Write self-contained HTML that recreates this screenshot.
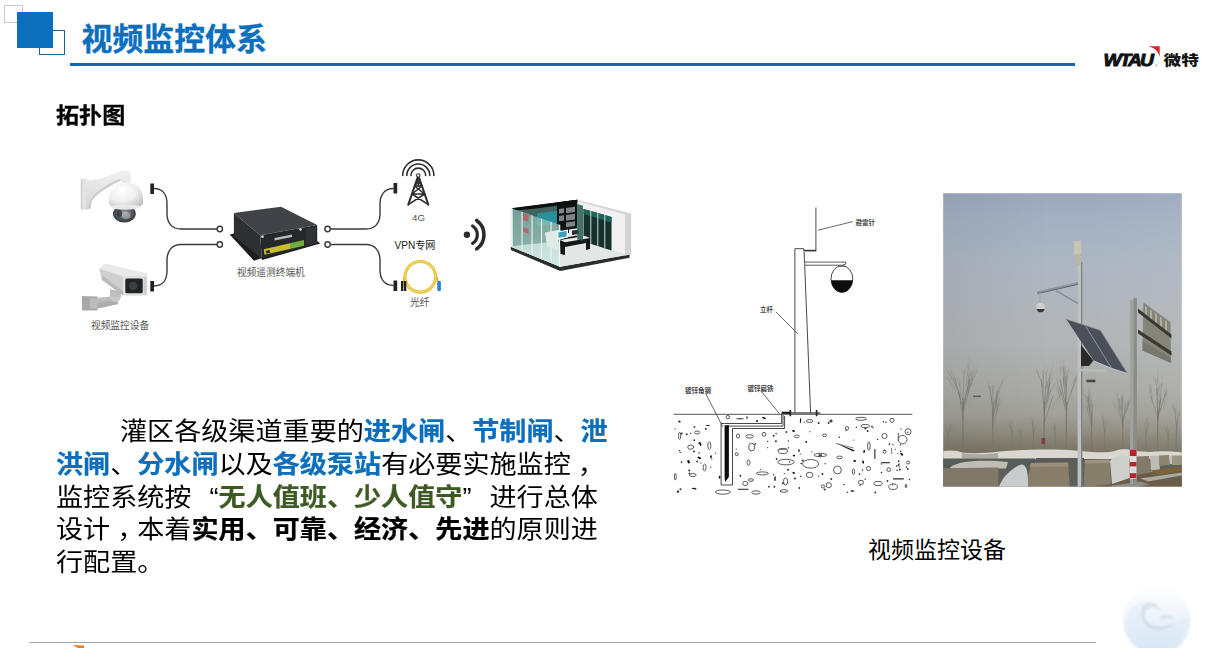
<!DOCTYPE html>
<html lang="zh-CN">
<head>
<meta charset="utf-8">
<title>视频监控体系</title>
<style>
html,body{margin:0;padding:0;}
body{width:1214px;height:648px;position:relative;overflow:hidden;background:#fff;
  font-family:"Liberation Sans","Noto Sans CJK SC",sans-serif;color:#000;}
.abs{position:absolute;}
#sq-gray{left:4px;top:5px;width:17px;height:16px;border:1px solid #c9c9c9;}
#sq-blue{left:17px;top:12px;width:36px;height:36px;background:#0b6fbd;}
#sq-line{left:39px;top:30px;width:24px;height:23px;border:1px solid #1f5f8c;}
#title{left:81.500px;top:17.600px;-webkit-text-stroke:0.350px #0b6fbd;font-size:30.9px;font-weight:bold;color:#0b6fbd;line-height:44px;white-space:nowrap;letter-spacing:0;}
#rule{left:70px;top:63px;width:1005px;height:3px;background:#0e6aae;}
#sub{left:56px;top:98.5px;font-size:23.1px;font-weight:bold;-webkit-text-stroke:0.300px #000;line-height:32px;transform:scaleY(0.95);transform-origin:0 50%;white-space:nowrap;}
#para{left:56px;top:415.5px;font-size:27.1px;line-height:34.97px;transform:scaleY(0.935);transform-origin:0 0;white-space:nowrap;color:#000;}
#para b{-webkit-text-stroke:0.250px currentColor;}
#para b.bl{color:#0b6fbd;}
#para .cm{position:relative;left:7px;}
#para b.gr{color:#3d5a23;}
#cap{left:868px;top:533px;font-size:23px;line-height:34px;white-space:nowrap;}
#botline{left:29px;top:642px;width:1067px;height:1px;background:#a8a8a8;}
#para .q{display:inline-block;width:27.1px;}
#para .ql{text-align:right;}
#para .qr{text-align:left;}
.tiny{font-size:6.500px;line-height:9px;color:#444;white-space:nowrap;font-weight:bold;}
.lbl{font-size:9.7px;color:#555;white-space:nowrap;line-height:12px;}
</style>
</head>
<body>
<div class="abs" id="sq-gray"></div>
<div class="abs" id="sq-line"></div>
<div class="abs" id="sq-blue"></div>
<div class="abs" id="title">视频监控体系</div>
<div class="abs" id="rule"></div>
<div class="abs" id="sub">拓扑图</div>

<div class="abs" id="para"><span style="display:inline-block;width:64px"></span>灌区各级渠道重要的<b class="bl">进水闸</b>、<b class="bl">节制闸</b>、<b class="bl">泄</b><br><b class="bl">洪闸</b>、<b class="bl">分水闸</b>以及<b class="bl">各级泵站</b>有必要实施监控<span class="cm">，</span><br>监控系统按<span class="q ql">“</span><b class="gr">无人值班、少人值守</b><span class="q qr">”</span>进行总体<br>设计<span class="cm">，</span>本着<b>实用、可靠、经济、先进</b>的原则进<br>行配置。</div>


<!-- topology diagram -->
<svg class="abs" id="topo" style="left:0;top:0" width="1214" height="648" viewBox="0 0 1214 648">

<defs>
  <radialGradient id="gDome" cx="0.38" cy="0.3" r="0.8">
    <stop offset="0" stop-color="#ffffff"/><stop offset="0.55" stop-color="#eeeeee"/><stop offset="1" stop-color="#bdbdbd"/>
  </radialGradient>
  <radialGradient id="gLens" cx="0.5" cy="0.45" r="0.6">
    <stop offset="0" stop-color="#a4a9ae"/><stop offset="0.5" stop-color="#5d6165"/><stop offset="1" stop-color="#2a2c2e"/>
  </radialGradient>
  <linearGradient id="gArm" x1="0" y1="0" x2="0" y2="1">
    <stop offset="0" stop-color="#f1f1f1"/><stop offset="1" stop-color="#d4d4d4"/>
  </linearGradient>
  <linearGradient id="gBody" x1="0" y1="0" x2="0" y2="1">
    <stop offset="0" stop-color="#f2f2f2"/><stop offset="1" stop-color="#b9b9b9"/>
  </linearGradient>
</defs>
<g id="domecam">
  <path d="M80.800,179 L85.700,178.600 L90.700,181 L90.700,208.200 L85.700,209.400 L80.800,209.400 Z" fill="#e4e4e4"/>
  <path d="M80.800,179 L82.300,179 L82.300,209.400 L80.800,209.400 Z" fill="#cfcfcf"/>
  <path d="M85.700,180.400 C95,180 103,178 111,174.900 C116,172.800 120,171 123.400,170.600 C126,170.300 128,170.400 128.900,170.900 C130.500,171.800 131,173.200 130.800,174.900 L130.200,183.500 L122.800,183.500 L120.900,180.400 C117,182 114,183.600 111,185.400 C106,188.400 102,190.800 98.700,193.400 C95,196.300 92.300,199.400 91.300,202 L90.700,208.200 L85.700,209.400 Z" fill="url(#gArm)"/>
  <path d="M120.900,180.400 C117,182 114,183.600 111,185.400 C106,188.400 102,190.800 98.700,193.400 C95,196.300 92.300,199.400 91.300,202 L90.700,208.200 L88,208.800 C88.500,203 91,198 95,194 C101,188.500 110,183 119.500,179 Z" fill="#cbcbcb"/>
  <path d="M108.600,202 C108,190 115,182.300 125.900,182.300 C137,182.300 143.600,190 143.100,202 C142.900,206 140,208.600 126,208.600 C112,208.600 108.900,206 108.600,202 Z" fill="url(#gDome)"/>
  <ellipse cx="124.400" cy="213.800" rx="11.400" ry="8.600" fill="url(#gLens)"/>
  <path d="M110.500,206.800 C113,210.600 138,210.600 141,206.800 C139,204 112.500,204 110.500,206.800 Z" fill="#e9e9e9"/>
  <ellipse cx="126" cy="215.500" rx="4.600" ry="3.600" fill="#b3b8bc" opacity="0.600"/>
  <ellipse cx="119.500" cy="213.500" rx="2.600" ry="3.600" fill="#2e3032" opacity="0.700"/>
</g>
<g id="bulletcam">
  <path d="M82,296 L97.500,296.500 L97.500,310.600 L82,310.600 Z" fill="#a9a9a9"/>
  <path d="M90,298.500 L112,296.500 L118,300 L118,304 L97.500,308.500 L90,308.500 Z" fill="#bcbcbc"/>
  <path d="M97.500,303 L116,299.500 L118,304 L97.500,308.500 Z" fill="#aeaeae"/>
  <ellipse cx="115.300" cy="296.300" rx="5.600" ry="5.600" fill="#c9c9c9"/>
  <path d="M110,289 L121,292 L121,297 L110,296 Z" fill="#bdbdbd"/>
  <path d="M99.300,268.600 L104.900,263.600 L148,273.500 L146.800,278.500 L123.400,276.600 Z" fill="#e9e9e9"/>
  <path d="M99.300,268.600 L123.400,276.600 L123.400,295.700 L101.800,279.700 Z" fill="#cfcfcf"/>
  <path d="M101.800,279.700 L123.400,295.700 L123.400,291 L103,276 Z" fill="#bababa"/>
  <rect x="123.400" y="275.800" width="23.400" height="20" rx="2" fill="#e1e1e1"/>
  <rect x="125.300" y="278.500" width="17.400" height="14.800" rx="1.500" fill="#232426"/>
  <circle cx="133" cy="286" r="4.200" fill="#3d4043"/>
  <path d="M143.500,277 L146.800,277 L146.800,294.500 L143.500,294.500 Z" fill="#cdcdcd"/>
</g>

<g id="box">
  <path d="M229.700,234.600 L233.900,233.600 L262,258 L254,260.800 Z" fill="#1c1d1f"/>
  <path d="M317,241 L320.300,243.600 L262,260 L261.700,257.500 Z" fill="#18191b"/>
  <path d="M233.900,213 L281,206.800 L317.200,224.900 L260.300,235.300 Z" fill="#404347"/>
  <path d="M233.900,213 L260.300,235.300 L261.700,258.900 L233.900,236 Z" fill="#2e3033"/>
  <path d="M260.300,235.300 L317.200,224.900 L317.200,243.600 L261.700,258.900 Z" fill="#26272a"/>
  <path d="M263.800,249.300 L290,243.300 L290,248.900 L264.400,254.800 Z" fill="#c9bd2e"/>
  <path d="M290,243.300 L304,240.100 L304,245.700 L290,248.900 Z" fill="#6fae3f"/>
  <rect x="266" y="250.500" width="4" height="2.600" fill="#2a2a2a" transform="rotate(-12 268 252)"/>
  <path d="M274.500,238 L292,234.500 L292,237 L274.500,240.600 Z" fill="#b9bcbf"/>
  <circle cx="262.500" cy="236.700" r="1.400" fill="#c9c9c9"/>
  <circle cx="300.500" cy="229.500" r="1.400" fill="#c9c9c9"/>
  <circle cx="309" cy="236.500" r="1.400" fill="#c9c9c9"/>
  <path d="M305.500,228 L316,226 L316,243 L305.500,246 Z" fill="#303235"/>
</g>
<g id="tower" fill="none" stroke="#2e2e2e" stroke-width="1.600" stroke-linecap="round">
  <path d="M402.700,175.500 A15.600,15.600 0 0 1 433.900,175.500"/>
  <path d="M406.800,175.500 A11.500,11.500 0 0 1 429.800,175.500"/>
  <path d="M410.900,175.500 A7.400,7.400 0 0 1 425.700,175.500"/>
  <circle cx="418.300" cy="175.500" r="1.700" stroke-width="1.100"/>
  <path d="M417.400,178 L408.300,204.600 M419.200,178 L428.300,204.600" stroke-width="2"/>
  <path d="M418.300,177.500 L418.300,186"/>
  <path d="M414.600,186 L422,186 M412,194 L424.600,194 M408.300,204.600 L424.600,194 M428.300,204.600 L412,194 M412,194 L422,186 M424.600,194 L414.600,186 M414.600,186 L419.500,180 M422,186 L417,180"/>
</g>
<g id="fiber" fill="none">
  <circle cx="420.300" cy="276.800" r="15.300" stroke="#dcbc3a" stroke-width="3.100"/>
  <circle cx="420.300" cy="276.800" r="15.300" stroke="#f3d95c" stroke-width="1.400"/>
  <path d="M404,277 C403,283 402.500,287 402.500,291" stroke="#d9b62c" stroke-width="1.500"/>
  <path d="M437,277 C438.500,283 439,286 439,290" stroke="#d9b62c" stroke-width="1.500"/>
  <rect x="401" y="281" width="2.300" height="10" fill="#222"/>
  <rect x="404" y="281" width="2.300" height="10" fill="#222"/>
  <rect x="437.300" y="281" width="3.600" height="10" rx="1" fill="#2f7fd0"/>
</g>
<g id="wifi" fill="none" stroke="#2b2b2b" stroke-linecap="round">
  <circle cx="466.900" cy="234.700" r="3.200" fill="#2b2b2b" stroke="none"/>
  <path d="M472.600,226 A10.400,10.400 0 0 1 472.600,243.400" stroke-width="3.200"/>
  <path d="M476.700,220.500 A17.500,17.500 0 0 1 476.700,248.900" stroke-width="3.600"/>
</g>
<defs><linearGradient id="gGlass" x1="0" y1="0" x2="0.3" y2="1"><stop offset="0" stop-color="#8ebdb3"/><stop offset="0.6" stop-color="#a9d4ca"/><stop offset="1" stop-color="#c4e4dc"/></linearGradient></defs>
<g id="room">
  <path d="M510.800,246.700 L560.200,266.800 L629.600,254.400 L629.600,257.800 L560.200,271 L510.800,250 Z" fill="#2a2c2d"/>
  <path d="M510.800,246.700 L560.200,266.800 L629.600,254.400 L578,239 Z" fill="#e3e8e6"/>
  <path d="M577.200,199.700 L631.200,213.500 L631.200,254.400 L625,255.500 L625,216 L577.200,204 Z" fill="#d4d4d4"/>
  <path d="M577.200,201 L625,214.500 L625,253 L577.200,239.500 Z" fill="#f1f1f1"/>
  <path d="M583.500,209 L611.500,217 L611.500,250.500 L583.500,241.500 Z" fill="#14312d"/>
  <path d="M583.500,209 L611.500,217 L611.500,222.500 L583.500,214 Z" fill="#1f6658"/>
  <path d="M590.300,211 L591.300,211.300 L591.300,244 L590.300,243.700 Z M597.300,213 L598.300,213.300 L598.300,246 L597.300,245.700 Z M604.300,215 L605.300,215.300 L605.300,248 L604.300,247.700 Z" fill="#cfd8d5"/>
  <path d="M513,208.300 L577.200,199.700 L577.200,239.500 L513,246 Z" fill="#41625e"/>
  <path d="M557,202.500 L577.200,199.700 L577.200,239.500 L557,241.500 Z" fill="#111314"/>
  <path d="M511,208.300 L577.200,199.700 L577.200,203 L536,208.500 L516,210.500 Z" fill="#0e0f10"/>
  <path d="M537,213.500 L557,210.800 L557,224 L537,226.500 Z" fill="#2a8f98"/>
  <path d="M559,209 L564,208.300 L564,213 L559,213.700 Z M566,208 L575,206.800 L575,212 L566,213.200 Z M559,216 L564,215.300 L564,220.500 L559,221.200 Z M566,215 L575,213.800 L575,219.500 L566,220.700 Z M566,222.500 L575,221.300 L575,226 L566,227.200 Z" fill="#7d8586"/>
  <path d="M510.800,208.100 L560.200,225.100 L560.200,266.800 L510.800,246.700 Z" fill="url(#gGlass)" fill-opacity="0.660"/>
  <path d="M523,213 L528.500,215 L528.500,222 L523,220 Z M523,227 L528.500,229 L528.500,233.500 L523,231.500 Z" fill="#c0575c" opacity="0.800"/>
  <path d="M510.800,208.100 L512.300,208.600 L512.300,247.300 L510.800,246.700 Z M521.500,211.800 L522.600,212.200 L522.600,251.500 L521.500,251 Z M531.500,215.200 L532.600,215.600 L532.600,255.500 L531.500,255 Z M541,218.500 L542.100,218.900 L542.100,259.400 L541,259 Z M550.500,221.800 L551.600,222.200 L551.600,263.300 L550.500,262.900 Z M558.800,224.600 L560.200,225.100 L560.200,266.800 L558.800,266.300 Z" fill="#eef4f2"/>
  <path d="M545,232.500 L558,230 L569,233 L569,237 L558,240 L558,250 L547,246 Z" fill="#dfe9e6"/>
  <path d="M557,231.500 L568,229.500 L568,237.500 L557,239.500 Z" fill="#f3f6f6"/>
  <path d="M558.500,232.300 L566.500,230.900 L566.500,236.400 L558.500,237.800 Z" fill="#3a9fc0"/>
  <path d="M569,229.500 L580,228 L580,235 L569,237 Z" fill="#ececec"/>
  <path d="M572,230.500 L579,229.500 L579,234 L572,235 Z" fill="#2c2f30"/>
  <path d="M560,241 L585,237 L590,238.500 L590,249 L586,250 L586,243 L565,247 L565,255 L560.500,254 Z" fill="#151617"/>
  <path d="M560,240 L585,236 L590,238 L565,242.300 Z" fill="#e9e9e9"/>
  <path d="M577.200,204 L583,205.700 L583,241.300 L577.200,239.500 Z" fill="#255c50" opacity="0.850"/>
</g>

<defs>
  <linearGradient id="gGlobe" x1="0" y1="0" x2="0" y2="1">
    <stop offset="0" stop-color="#fcfdfe"/><stop offset="0.3" stop-color="#f5f8fc"/><stop offset="0.5" stop-color="#ebf2f9"/><stop offset="0.85" stop-color="#dde9f6"/><stop offset="1" stop-color="#d3e4f5"/>
  </linearGradient>
  <filter id="fG" x="-10%" y="-10%" width="120%" height="120%"><feGaussianBlur stdDeviation="1.100"/></filter>
</defs>
<g id="globe">
  <circle cx="1156.700" cy="620.500" r="33.800" fill="url(#gGlobe)" filter="url(#fG)"/>
  <g filter="url(#fG)">
  <path d="M1127,618 C1130,606 1140,600 1152,602 C1146,606 1144,612 1146,618 C1150,626 1164,628 1174,622 C1180,618 1186,620 1189,616 C1188,632 1176,648 1157,650 C1140,650 1126,636 1127,618 Z" fill="#d9e7f5" opacity="0.400"/>
  <path d="M1143,606 C1150,600 1158,602 1160,610 C1154,606 1148,607 1145,612 C1143,618 1146,624 1154,626 C1162,628 1170,626 1174,622 C1170,630 1158,632 1150,628 C1142,624 1139,614 1143,606 Z" fill="#bcc8d8" opacity="0.420"/>
  <path d="M1160,616 C1166,614 1172,616 1174,619 C1168,618 1164,618 1160,619 Z" fill="#c3d2e3" opacity="0.600"/>
  </g>
</g>
<path id="orange" d="M72.500,645 L84,645.500 L84,648 L78,648 Z" fill="#e8821e"/>
<g id="logo">
  <path d="M1148.200,46.300 L1159.700,46.300 L1159.700,57 C1158.500,51.500 1154.500,47.800 1148.200,46.300 Z" fill="#d8232a"/>
  <text x="1103.400" y="66.200" font-family="'Liberation Sans',sans-serif" font-weight="bold" font-style="italic" font-size="16.600" letter-spacing="-1.700" fill="#111" stroke="#111" stroke-width="0.900" textLength="48.500" lengthAdjust="spacingAndGlyphs">WTAU</text>
  <text x="1155.200" y="66.800" font-family="'Liberation Sans',sans-serif" font-size="3.400" fill="#555">®</text>
  <text x="1163.600" y="65" font-family="'Noto Sans CJK SC',sans-serif" font-weight="900" font-size="14.200" fill="#111" textLength="35.200" lengthAdjust="spacingAndGlyphs">微特</text>
</g>
<!--PHOTO-START-->
<defs>
<linearGradient id="gSky" x1="0" y1="0" x2="0" y2="1"><stop offset="0.0000" stop-color="#9ba8bc"/><stop offset="0.0743" stop-color="#a2afc1"/><stop offset="0.2277" stop-color="#acb6c2"/><stop offset="0.3470" stop-color="#b0b6be"/><stop offset="0.5003" stop-color="#b2b5b6"/><stop offset="0.6708" stop-color="#aaaba7"/><stop offset="0.7560" stop-color="#a0a098"/><stop offset="0.8071" stop-color="#928f84"/><stop offset="0.8514" stop-color="#837d70"/><stop offset="0.8821" stop-color="#7a7467"/><stop offset="1.0000" stop-color="#746e62"/></linearGradient>
<linearGradient id="gSkyX" x1="0" y1="0" x2="1" y2="0"><stop offset="0" stop-color="#000" stop-opacity="0.055"/><stop offset="0.45" stop-color="#000" stop-opacity="0"/><stop offset="0.6" stop-color="#fff" stop-opacity="0"/><stop offset="1" stop-color="#fff" stop-opacity="0.05"/></linearGradient>
<clipPath id="cpPhoto"><rect x="943.2" y="193.2" width="238.6" height="293.4"/></clipPath>
<filter id="fBlur" x="-5%" y="-5%" width="110%" height="110%"><feGaussianBlur stdDeviation="0.6"/></filter>
<filter id="fBlur2" x="-5%" y="-5%" width="110%" height="110%"><feGaussianBlur stdDeviation="1.1"/></filter>
</defs>
<g id="photo" clip-path="url(#cpPhoto)">
<rect x="942.2" y="192.2" width="240.6" height="295.4" fill="url(#gSky)"/>
<rect x="942.2" y="192.2" width="240.6" height="262.0" fill="url(#gSkyX)"/>
<g stroke="#77736a" fill="none" stroke-linecap="round" filter="url(#fBlur)">
<path d="M963.0,451 L962.9,398.4" stroke-width="1.5" opacity="0.85"/>
<path d="M963.0,412.0 L971.0,383.1" stroke-width="0.83" opacity="0.75"/>
<path d="M968.3,391.9 L969.1,374.6" stroke-width="0.49" opacity="0.60"/>
<path d="M968.9,378.2 L966.8,369.3" stroke-width="0.30" opacity="0.45"/>
<path d="M968.6,378.0 L970.1,370.2" stroke-width="0.30" opacity="0.45"/>
<path d="M970.2,386.5 L976.9,369.7" stroke-width="0.49" opacity="0.60"/>
<path d="M973.4,379.6 L976.6,371.9" stroke-width="0.30" opacity="0.45"/>
<path d="M973.5,377.7 L974.0,367.5" stroke-width="0.30" opacity="0.45"/>
<path d="M963.0,409.1 L969.7,379.2" stroke-width="0.83" opacity="0.75"/>
<path d="M967.8,389.6 L973.4,373.3" stroke-width="0.49" opacity="0.60"/>
<path d="M970.8,375.0 L978.0,366.1" stroke-width="0.30" opacity="0.45"/>
<path d="M972.0,380.5 L973.3,371.6" stroke-width="0.30" opacity="0.45"/>
<path d="M965.9,385.7 L968.9,365.6" stroke-width="0.49" opacity="0.60"/>
<path d="M967.7,368.1 L971.2,359.6" stroke-width="0.30" opacity="0.45"/>
<path d="M967.4,368.5 L969.2,354.6" stroke-width="0.30" opacity="0.45"/>
<path d="M963.0,408.0 L954.4,377.2" stroke-width="0.83" opacity="0.75"/>
<path d="M956.2,391.6 L947.1,377.1" stroke-width="0.49" opacity="0.60"/>
<path d="M948.2,380.3 L941.8,374.4" stroke-width="0.30" opacity="0.45"/>
<path d="M952.1,385.4 L949.2,377.5" stroke-width="0.30" opacity="0.45"/>
<path d="M957.1,388.8 L947.6,371.0" stroke-width="0.49" opacity="0.60"/>
<path d="M952.7,375.9 L945.0,367.8" stroke-width="0.30" opacity="0.45"/>
<path d="M952.3,379.3 L950.2,366.3" stroke-width="0.30" opacity="0.45"/>
<path d="M963.0,405.7 L969.5,379.7" stroke-width="0.83" opacity="0.75"/>
<path d="M966.9,384.2 L971.2,372.2" stroke-width="0.49" opacity="0.60"/>
<path d="M970.8,378.1 L972.2,370.0" stroke-width="0.30" opacity="0.45"/>
<path d="M969.4,377.6 L969.6,371.6" stroke-width="0.30" opacity="0.45"/>
<path d="M967.5,392.2 L972.1,378.3" stroke-width="0.49" opacity="0.60"/>
<path d="M970.4,380.0 L973.0,371.7" stroke-width="0.30" opacity="0.45"/>
<path d="M971.3,385.3 L972.1,375.5" stroke-width="0.30" opacity="0.45"/>
<path d="M963.0,418.2 L958.8,392.0" stroke-width="0.83" opacity="0.75"/>
<path d="M959.7,395.4 L953.1,378.3" stroke-width="0.49" opacity="0.60"/>
<path d="M954.1,383.4 L950.5,375.5" stroke-width="0.30" opacity="0.45"/>
<path d="M956.9,380.4 L950.9,370.6" stroke-width="0.30" opacity="0.45"/>
<path d="M960.8,396.9 L959.5,383.0" stroke-width="0.49" opacity="0.60"/>
<path d="M960.1,386.4 L957.4,379.8" stroke-width="0.30" opacity="0.45"/>
<path d="M959.9,385.4 L959.8,378.2" stroke-width="0.30" opacity="0.45"/>
<path d="M963.0,398.4 L964.3,370.0" stroke-width="0.75" opacity="0.6"/>
<path d="M993.0,451 L992.5,408.8" stroke-width="1.2" opacity="0.85"/>
<path d="M993.0,409.1 L989.5,385.5" stroke-width="0.66" opacity="0.75"/>
<path d="M991.5,397.6 L988.1,383.8" stroke-width="0.40" opacity="0.60"/>
<path d="M989.9,389.6 L990.3,379.8" stroke-width="0.24" opacity="0.45"/>
<path d="M989.0,387.3 L987.8,380.6" stroke-width="0.24" opacity="0.45"/>
<path d="M991.5,399.4 L993.6,384.7" stroke-width="0.40" opacity="0.60"/>
<path d="M993.4,393.4 L995.3,385.1" stroke-width="0.24" opacity="0.45"/>
<path d="M993.1,391.2 L996.4,385.0" stroke-width="0.24" opacity="0.45"/>
<path d="M993.0,419.4 L997.3,391.4" stroke-width="0.66" opacity="0.75"/>
<path d="M996.3,398.4 L1003.0,380.4" stroke-width="0.40" opacity="0.60"/>
<path d="M1000.1,385.0 L1007.8,374.7" stroke-width="0.24" opacity="0.45"/>
<path d="M1000.4,384.1 L1006.9,374.8" stroke-width="0.24" opacity="0.45"/>
<path d="M996.0,402.9 L999.6,386.2" stroke-width="0.40" opacity="0.60"/>
<path d="M997.6,390.9 L1003.6,381.2" stroke-width="0.24" opacity="0.45"/>
<path d="M998.8,393.0 L1002.5,383.5" stroke-width="0.24" opacity="0.45"/>
<path d="M993.0,417.3 L997.4,397.5" stroke-width="0.66" opacity="0.75"/>
<path d="M996.4,409.1 L999.7,398.0" stroke-width="0.40" opacity="0.60"/>
<path d="M998.1,400.8 L1000.0,394.1" stroke-width="0.24" opacity="0.45"/>
<path d="M999.2,403.2 L998.9,397.2" stroke-width="0.24" opacity="0.45"/>
<path d="M996.2,407.4 L996.0,393.7" stroke-width="0.40" opacity="0.60"/>
<path d="M996.1,398.9 L998.0,391.8" stroke-width="0.24" opacity="0.45"/>
<path d="M996.1,400.5 L995.5,391.6" stroke-width="0.24" opacity="0.45"/>
<path d="M993.0,426.6 L998.6,404.0" stroke-width="0.66" opacity="0.75"/>
<path d="M996.9,414.0 L996.7,400.6" stroke-width="0.40" opacity="0.60"/>
<path d="M996.8,403.0 L998.0,393.9" stroke-width="0.24" opacity="0.45"/>
<path d="M996.8,407.5 L996.5,400.6" stroke-width="0.24" opacity="0.45"/>
<path d="M995.8,412.9 L1000.2,400.3" stroke-width="0.40" opacity="0.60"/>
<path d="M998.3,402.5 L1002.9,396.7" stroke-width="0.24" opacity="0.45"/>
<path d="M997.7,407.6 L1001.2,402.5" stroke-width="0.24" opacity="0.45"/>
<path d="M993.0,422.6 L994.0,400.1" stroke-width="0.66" opacity="0.75"/>
<path d="M993.8,413.4 L991.2,400.9" stroke-width="0.40" opacity="0.60"/>
<path d="M992.7,403.2 L990.4,397.6" stroke-width="0.24" opacity="0.45"/>
<path d="M992.7,404.5 L990.8,397.0" stroke-width="0.24" opacity="0.45"/>
<path d="M993.7,404.5 L998.7,391.4" stroke-width="0.40" opacity="0.60"/>
<path d="M996.2,396.2 L997.1,389.9" stroke-width="0.24" opacity="0.45"/>
<path d="M996.9,394.6 L997.9,387.4" stroke-width="0.24" opacity="0.45"/>
<path d="M993.0,408.8 L992.5,386.0" stroke-width="0.60" opacity="0.6"/>
<path d="M1044.0,451 L1044.3,401.6" stroke-width="1.3" opacity="0.85"/>
<path d="M1044.0,413.5 L1046.3,382.1" stroke-width="0.72" opacity="0.75"/>
<path d="M1045.4,388.5 L1050.6,374.6" stroke-width="0.43" opacity="0.60"/>
<path d="M1049.9,378.0 L1050.7,369.6" stroke-width="0.26" opacity="0.45"/>
<path d="M1049.1,376.7 L1051.4,368.2" stroke-width="0.26" opacity="0.45"/>
<path d="M1045.9,388.4 L1052.6,372.0" stroke-width="0.43" opacity="0.60"/>
<path d="M1050.8,380.2 L1056.7,370.2" stroke-width="0.26" opacity="0.45"/>
<path d="M1050.7,375.9 L1052.9,364.1" stroke-width="0.26" opacity="0.45"/>
<path d="M1044.0,424.0 L1052.7,396.4" stroke-width="0.72" opacity="0.75"/>
<path d="M1050.9,408.5 L1061.6,392.6" stroke-width="0.43" opacity="0.60"/>
<path d="M1057.1,401.5 L1063.0,391.9" stroke-width="0.26" opacity="0.45"/>
<path d="M1059.3,398.2 L1062.6,386.2" stroke-width="0.26" opacity="0.45"/>
<path d="M1047.8,401.9 L1048.9,386.5" stroke-width="0.43" opacity="0.60"/>
<path d="M1048.7,394.7 L1047.2,385.8" stroke-width="0.26" opacity="0.45"/>
<path d="M1048.7,389.3 L1050.9,378.9" stroke-width="0.26" opacity="0.45"/>
<path d="M1044.0,412.8 L1050.7,390.0" stroke-width="0.72" opacity="0.75"/>
<path d="M1047.4,397.7 L1049.5,382.8" stroke-width="0.43" opacity="0.60"/>
<path d="M1049.0,387.9 L1052.3,379.6" stroke-width="0.26" opacity="0.45"/>
<path d="M1048.6,388.9 L1052.4,379.5" stroke-width="0.26" opacity="0.45"/>
<path d="M1047.4,394.0 L1055.4,382.7" stroke-width="0.43" opacity="0.60"/>
<path d="M1052.9,388.4 L1057.6,382.0" stroke-width="0.26" opacity="0.45"/>
<path d="M1053.0,389.3 L1059.5,384.6" stroke-width="0.26" opacity="0.45"/>
<path d="M1044.0,410.7 L1049.6,382.1" stroke-width="0.72" opacity="0.75"/>
<path d="M1047.6,389.4 L1045.7,372.4" stroke-width="0.43" opacity="0.60"/>
<path d="M1046.5,374.4 L1048.1,365.8" stroke-width="0.26" opacity="0.45"/>
<path d="M1046.4,381.5 L1044.7,370.5" stroke-width="0.26" opacity="0.45"/>
<path d="M1048.8,392.4 L1049.7,377.9" stroke-width="0.43" opacity="0.60"/>
<path d="M1049.4,379.9 L1047.6,370.7" stroke-width="0.26" opacity="0.45"/>
<path d="M1049.1,385.2 L1048.0,376.2" stroke-width="0.26" opacity="0.45"/>
<path d="M1044.0,408.9 L1041.2,379.2" stroke-width="0.72" opacity="0.75"/>
<path d="M1042.8,386.2 L1036.7,370.0" stroke-width="0.43" opacity="0.60"/>
<path d="M1039.6,378.1 L1036.4,369.0" stroke-width="0.26" opacity="0.45"/>
<path d="M1039.2,376.4 L1036.4,368.4" stroke-width="0.26" opacity="0.45"/>
<path d="M1042.6,387.7 L1042.7,370.3" stroke-width="0.43" opacity="0.60"/>
<path d="M1042.7,375.4 L1044.9,366.8" stroke-width="0.26" opacity="0.45"/>
<path d="M1042.7,373.7 L1045.3,364.8" stroke-width="0.26" opacity="0.45"/>
<path d="M1044.0,401.6 L1043.4,375.0" stroke-width="0.65" opacity="0.6"/>
<path d="M1066.0,451 L1066.7,402.9" stroke-width="1.3" opacity="0.85"/>
<path d="M1066.0,407.7 L1076.1,377.3" stroke-width="0.72" opacity="0.75"/>
<path d="M1070.7,391.9 L1078.3,377.3" stroke-width="0.43" opacity="0.60"/>
<path d="M1074.1,380.0 L1078.5,370.2" stroke-width="0.26" opacity="0.45"/>
<path d="M1074.2,383.1 L1078.5,377.0" stroke-width="0.26" opacity="0.45"/>
<path d="M1071.0,385.2 L1083.7,367.0" stroke-width="0.43" opacity="0.60"/>
<path d="M1076.8,373.3 L1085.9,364.3" stroke-width="0.26" opacity="0.45"/>
<path d="M1080.4,376.2 L1083.6,366.1" stroke-width="0.26" opacity="0.45"/>
<path d="M1066.0,403.7 L1066.9,375.8" stroke-width="0.72" opacity="0.75"/>
<path d="M1066.6,390.5 L1064.0,376.8" stroke-width="0.43" opacity="0.60"/>
<path d="M1064.5,378.2 L1065.2,371.6" stroke-width="0.26" opacity="0.45"/>
<path d="M1065.5,378.5 L1063.6,369.7" stroke-width="0.26" opacity="0.45"/>
<path d="M1066.5,386.1 L1067.2,370.5" stroke-width="0.43" opacity="0.60"/>
<path d="M1067.0,379.7 L1068.9,369.6" stroke-width="0.26" opacity="0.45"/>
<path d="M1066.9,376.3 L1068.7,367.9" stroke-width="0.26" opacity="0.45"/>
<path d="M1066.0,407.2 L1060.1,380.0" stroke-width="0.72" opacity="0.75"/>
<path d="M1063.6,384.2 L1063.5,366.7" stroke-width="0.43" opacity="0.60"/>
<path d="M1063.5,371.7 L1062.8,361.2" stroke-width="0.26" opacity="0.45"/>
<path d="M1063.5,368.6 L1065.4,359.8" stroke-width="0.26" opacity="0.45"/>
<path d="M1060.9,386.2 L1060.6,368.0" stroke-width="0.43" opacity="0.60"/>
<path d="M1060.7,370.7 L1063.5,359.7" stroke-width="0.26" opacity="0.45"/>
<path d="M1060.6,371.9 L1059.7,360.5" stroke-width="0.26" opacity="0.45"/>
<path d="M1066.0,404.5 L1063.2,377.2" stroke-width="0.72" opacity="0.75"/>
<path d="M1064.9,388.7 L1064.8,372.1" stroke-width="0.43" opacity="0.60"/>
<path d="M1064.8,374.2 L1065.8,365.4" stroke-width="0.26" opacity="0.45"/>
<path d="M1064.8,377.3 L1065.0,368.3" stroke-width="0.26" opacity="0.45"/>
<path d="M1063.5,384.8 L1064.2,367.3" stroke-width="0.43" opacity="0.60"/>
<path d="M1064.1,377.6 L1065.5,366.5" stroke-width="0.26" opacity="0.45"/>
<path d="M1063.9,374.3 L1061.5,365.8" stroke-width="0.26" opacity="0.45"/>
<path d="M1066.0,411.2 L1059.6,387.1" stroke-width="0.72" opacity="0.75"/>
<path d="M1060.6,394.9 L1056.3,378.2" stroke-width="0.43" opacity="0.60"/>
<path d="M1057.6,379.9 L1055.9,368.8" stroke-width="0.26" opacity="0.45"/>
<path d="M1058.7,383.2 L1058.1,375.3" stroke-width="0.26" opacity="0.45"/>
<path d="M1060.5,399.6 L1057.1,387.8" stroke-width="0.43" opacity="0.60"/>
<path d="M1058.3,391.3 L1053.7,384.3" stroke-width="0.26" opacity="0.45"/>
<path d="M1058.5,391.8 L1057.1,385.3" stroke-width="0.26" opacity="0.45"/>
<path d="M1066.0,402.9 L1065.4,377.0" stroke-width="0.65" opacity="0.6"/>
<path d="M1091.6,451 L1091.8,416.6" stroke-width="1.0" opacity="0.85"/>
<path d="M1091.6,425.5 L1088.6,404.1" stroke-width="0.55" opacity="0.75"/>
<path d="M1090.0,416.8 L1086.9,407.3" stroke-width="0.33" opacity="0.60"/>
<path d="M1088.5,409.4 L1085.9,403.2" stroke-width="0.20" opacity="0.45"/>
<path d="M1087.6,412.7 L1087.7,405.9" stroke-width="0.20" opacity="0.45"/>
<path d="M1090.3,407.2 L1088.0,395.1" stroke-width="0.33" opacity="0.60"/>
<path d="M1088.3,400.9 L1086.8,392.6" stroke-width="0.20" opacity="0.45"/>
<path d="M1088.5,399.6 L1089.7,391.6" stroke-width="0.20" opacity="0.45"/>
<path d="M1091.6,426.1 L1086.5,405.9" stroke-width="0.55" opacity="0.75"/>
<path d="M1088.4,416.0 L1082.0,405.7" stroke-width="0.33" opacity="0.60"/>
<path d="M1085.4,409.6 L1082.5,403.4" stroke-width="0.20" opacity="0.45"/>
<path d="M1085.0,408.9 L1080.5,402.5" stroke-width="0.20" opacity="0.45"/>
<path d="M1088.2,408.0 L1089.1,394.8" stroke-width="0.33" opacity="0.60"/>
<path d="M1088.7,401.9 L1091.6,393.9" stroke-width="0.20" opacity="0.45"/>
<path d="M1088.9,400.3 L1088.1,392.1" stroke-width="0.20" opacity="0.45"/>
<path d="M1091.6,425.5 L1092.8,404.6" stroke-width="0.55" opacity="0.75"/>
<path d="M1092.6,415.2 L1090.9,400.7" stroke-width="0.33" opacity="0.60"/>
<path d="M1091.1,403.1 L1088.2,396.9" stroke-width="0.20" opacity="0.45"/>
<path d="M1091.6,406.3 L1091.4,399.4" stroke-width="0.20" opacity="0.45"/>
<path d="M1092.4,416.4 L1089.5,403.8" stroke-width="0.33" opacity="0.60"/>
<path d="M1090.4,407.4 L1088.1,400.4" stroke-width="0.20" opacity="0.45"/>
<path d="M1090.9,409.2 L1090.4,400.7" stroke-width="0.20" opacity="0.45"/>
<path d="M1091.6,417.7 L1086.2,396.1" stroke-width="0.55" opacity="0.75"/>
<path d="M1087.8,400.7 L1082.4,389.5" stroke-width="0.33" opacity="0.60"/>
<path d="M1084.9,391.7 L1081.1,385.2" stroke-width="0.20" opacity="0.45"/>
<path d="M1083.0,394.4 L1079.8,387.2" stroke-width="0.20" opacity="0.45"/>
<path d="M1087.0,404.4 L1083.5,394.4" stroke-width="0.33" opacity="0.60"/>
<path d="M1084.1,400.0 L1080.4,395.0" stroke-width="0.20" opacity="0.45"/>
<path d="M1084.7,397.0 L1081.6,390.9" stroke-width="0.20" opacity="0.45"/>
<path d="M1091.6,417.8 L1087.7,397.0" stroke-width="0.55" opacity="0.75"/>
<path d="M1089.9,406.3 L1089.6,393.1" stroke-width="0.33" opacity="0.60"/>
<path d="M1089.7,400.1 L1088.7,391.8" stroke-width="0.20" opacity="0.45"/>
<path d="M1089.7,400.2 L1090.6,392.5" stroke-width="0.20" opacity="0.45"/>
<path d="M1088.3,399.7 L1089.5,387.9" stroke-width="0.33" opacity="0.60"/>
<path d="M1089.3,393.2 L1089.1,386.6" stroke-width="0.20" opacity="0.45"/>
<path d="M1089.4,389.7 L1088.9,383.3" stroke-width="0.20" opacity="0.45"/>
<path d="M1091.6,416.6 L1091.2,398.0" stroke-width="0.50" opacity="0.6"/>
<path d="M1122.9,451 L1122.7,416.6" stroke-width="1.0" opacity="0.85"/>
<path d="M1122.9,422.8 L1121.6,405.4" stroke-width="0.55" opacity="0.75"/>
<path d="M1122.0,408.9 L1121.5,397.5" stroke-width="0.33" opacity="0.60"/>
<path d="M1121.7,403.3 L1122.8,395.7" stroke-width="0.20" opacity="0.45"/>
<path d="M1121.8,404.2 L1121.6,397.5" stroke-width="0.20" opacity="0.45"/>
<path d="M1122.0,407.5 L1122.4,396.1" stroke-width="0.33" opacity="0.60"/>
<path d="M1122.2,399.8 L1123.5,394.6" stroke-width="0.20" opacity="0.45"/>
<path d="M1122.2,398.7 L1123.9,393.6" stroke-width="0.20" opacity="0.45"/>
<path d="M1122.9,426.6 L1118.0,405.4" stroke-width="0.55" opacity="0.75"/>
<path d="M1119.3,415.5 L1113.6,402.8" stroke-width="0.33" opacity="0.60"/>
<path d="M1115.5,405.5 L1112.0,399.0" stroke-width="0.20" opacity="0.45"/>
<path d="M1114.2,406.1 L1110.8,398.7" stroke-width="0.20" opacity="0.45"/>
<path d="M1119.1,410.6 L1119.9,398.6" stroke-width="0.33" opacity="0.60"/>
<path d="M1119.8,401.8 L1122.2,394.3" stroke-width="0.20" opacity="0.45"/>
<path d="M1119.8,400.4 L1122.5,393.6" stroke-width="0.20" opacity="0.45"/>
<path d="M1122.9,424.9 L1125.9,402.8" stroke-width="0.55" opacity="0.75"/>
<path d="M1124.7,411.4 L1123.1,397.3" stroke-width="0.33" opacity="0.60"/>
<path d="M1123.3,403.1 L1120.9,396.5" stroke-width="0.20" opacity="0.45"/>
<path d="M1123.7,403.7 L1125.2,397.3" stroke-width="0.20" opacity="0.45"/>
<path d="M1124.6,414.8 L1127.9,400.8" stroke-width="0.33" opacity="0.60"/>
<path d="M1126.2,408.8 L1128.0,400.4" stroke-width="0.20" opacity="0.45"/>
<path d="M1127.4,409.0 L1127.2,401.8" stroke-width="0.20" opacity="0.45"/>
<path d="M1122.9,420.0 L1119.3,398.7" stroke-width="0.55" opacity="0.75"/>
<path d="M1120.4,409.1 L1116.1,398.7" stroke-width="0.33" opacity="0.60"/>
<path d="M1118.3,401.0 L1115.0,395.3" stroke-width="0.20" opacity="0.45"/>
<path d="M1116.9,402.5 L1112.9,396.0" stroke-width="0.20" opacity="0.45"/>
<path d="M1119.8,407.8 L1117.8,393.1" stroke-width="0.33" opacity="0.60"/>
<path d="M1118.5,400.3 L1114.0,391.1" stroke-width="0.20" opacity="0.45"/>
<path d="M1118.2,399.1 L1117.2,390.5" stroke-width="0.20" opacity="0.45"/>
<path d="M1122.9,420.9 L1129.4,400.8" stroke-width="0.55" opacity="0.75"/>
<path d="M1126.3,412.8 L1129.6,401.8" stroke-width="0.33" opacity="0.60"/>
<path d="M1128.9,404.5 L1131.0,399.2" stroke-width="0.20" opacity="0.45"/>
<path d="M1127.9,406.6 L1128.8,399.0" stroke-width="0.20" opacity="0.45"/>
<path d="M1127.2,406.5 L1133.9,397.8" stroke-width="0.33" opacity="0.60"/>
<path d="M1131.7,402.4 L1135.3,399.1" stroke-width="0.20" opacity="0.45"/>
<path d="M1132.6,399.4 L1136.6,396.1" stroke-width="0.20" opacity="0.45"/>
<path d="M1122.9,416.6 L1122.2,398.0" stroke-width="0.50" opacity="0.6"/>
<path d="M1157.6,451 L1157.9,410.1" stroke-width="1.2" opacity="0.85"/>
<path d="M1157.6,411.9 L1157.3,388.6" stroke-width="0.66" opacity="0.75"/>
<path d="M1157.3,395.7 L1160.2,383.8" stroke-width="0.40" opacity="0.60"/>
<path d="M1159.6,388.5 L1162.6,383.5" stroke-width="0.24" opacity="0.45"/>
<path d="M1159.7,389.7 L1161.6,382.8" stroke-width="0.24" opacity="0.45"/>
<path d="M1157.5,392.9 L1155.7,380.7" stroke-width="0.40" opacity="0.60"/>
<path d="M1156.7,386.1 L1155.4,378.5" stroke-width="0.24" opacity="0.45"/>
<path d="M1156.4,383.8 L1153.7,377.6" stroke-width="0.24" opacity="0.45"/>
<path d="M1157.6,418.8 L1165.5,393.2" stroke-width="0.66" opacity="0.75"/>
<path d="M1163.3,408.4 L1166.9,392.0" stroke-width="0.40" opacity="0.60"/>
<path d="M1165.2,397.2 L1166.5,389.7" stroke-width="0.24" opacity="0.45"/>
<path d="M1166.5,395.3 L1166.6,385.1" stroke-width="0.24" opacity="0.45"/>
<path d="M1161.9,403.8 L1166.4,390.5" stroke-width="0.40" opacity="0.60"/>
<path d="M1164.5,395.8 L1167.5,389.3" stroke-width="0.24" opacity="0.45"/>
<path d="M1164.1,393.6 L1166.1,384.2" stroke-width="0.24" opacity="0.45"/>
<path d="M1157.6,420.7 L1160.7,398.9" stroke-width="0.66" opacity="0.75"/>
<path d="M1160.2,411.0 L1159.0,400.6" stroke-width="0.40" opacity="0.60"/>
<path d="M1159.3,403.1 L1157.5,397.7" stroke-width="0.24" opacity="0.45"/>
<path d="M1159.2,403.7 L1157.2,398.9" stroke-width="0.24" opacity="0.45"/>
<path d="M1159.1,410.6 L1159.9,400.3" stroke-width="0.40" opacity="0.60"/>
<path d="M1159.8,404.3 L1160.3,398.0" stroke-width="0.24" opacity="0.45"/>
<path d="M1159.7,402.3 L1159.7,396.8" stroke-width="0.24" opacity="0.45"/>
<path d="M1157.6,417.8 L1150.7,396.2" stroke-width="0.66" opacity="0.75"/>
<path d="M1152.4,398.6 L1150.9,384.7" stroke-width="0.40" opacity="0.60"/>
<path d="M1151.4,392.9 L1149.7,385.6" stroke-width="0.24" opacity="0.45"/>
<path d="M1151.3,392.3 L1149.8,384.4" stroke-width="0.24" opacity="0.45"/>
<path d="M1152.1,400.3 L1149.5,389.5" stroke-width="0.40" opacity="0.60"/>
<path d="M1150.1,391.1 L1148.9,385.2" stroke-width="0.24" opacity="0.45"/>
<path d="M1150.4,395.2 L1149.8,387.5" stroke-width="0.24" opacity="0.45"/>
<path d="M1157.6,419.8 L1161.3,393.3" stroke-width="0.66" opacity="0.75"/>
<path d="M1159.4,396.6 L1162.4,383.6" stroke-width="0.40" opacity="0.60"/>
<path d="M1160.8,389.8 L1163.1,381.8" stroke-width="0.24" opacity="0.45"/>
<path d="M1161.1,385.4 L1162.1,377.9" stroke-width="0.24" opacity="0.45"/>
<path d="M1159.3,396.3 L1157.2,378.3" stroke-width="0.40" opacity="0.60"/>
<path d="M1157.9,384.0 L1157.2,374.7" stroke-width="0.24" opacity="0.45"/>
<path d="M1157.5,380.1 L1158.6,369.3" stroke-width="0.24" opacity="0.45"/>
<path d="M1157.6,410.1 L1156.5,388.0" stroke-width="0.60" opacity="0.6"/>
<path d="M1176.0,451 L1176.5,423.1" stroke-width="0.9" opacity="0.85"/>
<path d="M1176.0,426.8 L1179.6,412.8" stroke-width="0.50" opacity="0.60"/>
<path d="M1178.5,415.4 L1178.8,406.9" stroke-width="0.30" opacity="0.45"/>
<path d="M1177.6,421.0 L1177.9,410.9" stroke-width="0.30" opacity="0.45"/>
<path d="M1176.0,435.2 L1177.5,420.4" stroke-width="0.50" opacity="0.60"/>
<path d="M1177.1,423.8 L1177.3,414.9" stroke-width="0.30" opacity="0.45"/>
<path d="M1177.2,429.1 L1176.3,420.7" stroke-width="0.30" opacity="0.45"/>
<path d="M1176.0,424.9 L1174.8,408.4" stroke-width="0.50" opacity="0.60"/>
<path d="M1175.4,414.0 L1173.1,404.5" stroke-width="0.30" opacity="0.45"/>
<path d="M1175.3,413.0 L1171.4,403.5" stroke-width="0.30" opacity="0.45"/>
<path d="M1176.0,423.1 L1174.9,408.0" stroke-width="0.45" opacity="0.6"/>
<path d="M1033.0,451 L1033.7,429.6" stroke-width="0.8" opacity="0.85"/>
<path d="M1033.0,435.5 L1032.8,423.6" stroke-width="0.44" opacity="0.60"/>
<path d="M1032.8,426.6 L1034.1,419.1" stroke-width="0.26" opacity="0.45"/>
<path d="M1032.9,424.8 L1034.6,417.0" stroke-width="0.26" opacity="0.45"/>
<path d="M1033.0,433.6 L1032.5,420.9" stroke-width="0.44" opacity="0.60"/>
<path d="M1032.5,425.2 L1032.4,418.1" stroke-width="0.26" opacity="0.45"/>
<path d="M1032.5,426.5 L1029.8,419.0" stroke-width="0.26" opacity="0.45"/>
<path d="M1033.0,438.5 L1034.9,425.7" stroke-width="0.44" opacity="0.60"/>
<path d="M1034.5,431.4 L1035.8,425.6" stroke-width="0.26" opacity="0.45"/>
<path d="M1033.9,430.5 L1034.9,423.6" stroke-width="0.26" opacity="0.45"/>
<path d="M1033.0,429.6 L1031.7,418.0" stroke-width="0.40" opacity="0.6"/>
<path d="M1012.0,451 L1012.3,430.9" stroke-width="0.7" opacity="0.85"/>
<path d="M1012.0,435.7 L1010.2,425.2" stroke-width="0.39" opacity="0.60"/>
<path d="M1010.9,430.3 L1007.6,423.8" stroke-width="0.23" opacity="0.45"/>
<path d="M1010.4,428.0 L1011.0,422.1" stroke-width="0.23" opacity="0.45"/>
<path d="M1012.0,438.3 L1009.7,425.8" stroke-width="0.39" opacity="0.60"/>
<path d="M1010.5,427.6 L1006.8,420.2" stroke-width="0.23" opacity="0.45"/>
<path d="M1011.0,429.9 L1011.7,424.2" stroke-width="0.23" opacity="0.45"/>
<path d="M1012.0,433.1 L1010.6,422.4" stroke-width="0.39" opacity="0.60"/>
<path d="M1011.4,424.0 L1012.0,418.1" stroke-width="0.23" opacity="0.45"/>
<path d="M1011.2,425.7 L1009.1,421.2" stroke-width="0.23" opacity="0.45"/>
<path d="M1012.0,430.9 L1013.2,420.0" stroke-width="0.35" opacity="0.6"/>
<path d="M948.0,451 L947.7,433.4" stroke-width="0.8" opacity="0.85"/>
<path d="M948.0,437.5 L951.3,425.9" stroke-width="0.44" opacity="0.60"/>
<path d="M950.1,431.7 L951.2,423.5" stroke-width="0.26" opacity="0.45"/>
<path d="M950.8,431.7 L954.0,426.1" stroke-width="0.26" opacity="0.45"/>
<path d="M948.0,437.3 L945.6,425.9" stroke-width="0.44" opacity="0.60"/>
<path d="M945.8,431.6 L945.1,425.8" stroke-width="0.26" opacity="0.45"/>
<path d="M946.0,432.4 L942.5,425.9" stroke-width="0.26" opacity="0.45"/>
<path d="M948.0,436.0 L950.9,424.7" stroke-width="0.44" opacity="0.60"/>
<path d="M950.2,430.7 L953.3,423.4" stroke-width="0.26" opacity="0.45"/>
<path d="M949.8,431.0 L950.2,424.9" stroke-width="0.26" opacity="0.45"/>
<path d="M948.0,433.4 L948.6,424.0" stroke-width="0.40" opacity="0.6"/>
<path d="M1105.0,451 L1104.5,428.2" stroke-width="0.7" opacity="0.85"/>
<path d="M1105.0,430.2 L1102.6,416.4" stroke-width="0.39" opacity="0.60"/>
<path d="M1103.1,422.1 L1102.6,412.7" stroke-width="0.23" opacity="0.45"/>
<path d="M1103.4,423.1 L1100.5,414.0" stroke-width="0.23" opacity="0.45"/>
<path d="M1105.0,435.3 L1103.0,421.5" stroke-width="0.39" opacity="0.60"/>
<path d="M1104.1,423.0 L1102.6,415.1" stroke-width="0.23" opacity="0.45"/>
<path d="M1103.7,429.5 L1103.2,422.3" stroke-width="0.23" opacity="0.45"/>
<path d="M1105.0,430.9 L1107.1,420.1" stroke-width="0.39" opacity="0.60"/>
<path d="M1106.1,422.5 L1106.2,416.8" stroke-width="0.23" opacity="0.45"/>
<path d="M1106.4,425.6 L1109.9,418.8" stroke-width="0.23" opacity="0.45"/>
<path d="M1105.0,428.2 L1103.6,416.0" stroke-width="0.35" opacity="0.6"/>
<path d="M1146.0,451 L1145.9,429.6" stroke-width="0.7" opacity="0.85"/>
<path d="M1146.0,437.0 L1144.9,422.5" stroke-width="0.39" opacity="0.60"/>
<path d="M1145.3,429.9 L1145.0,421.0" stroke-width="0.23" opacity="0.45"/>
<path d="M1145.4,426.4 L1146.4,418.1" stroke-width="0.23" opacity="0.45"/>
<path d="M1146.0,434.6 L1148.9,421.6" stroke-width="0.39" opacity="0.60"/>
<path d="M1147.9,423.2 L1147.9,414.6" stroke-width="0.23" opacity="0.45"/>
<path d="M1147.4,425.4 L1147.7,418.0" stroke-width="0.23" opacity="0.45"/>
<path d="M1146.0,437.2 L1148.5,423.6" stroke-width="0.39" opacity="0.60"/>
<path d="M1147.3,428.4 L1147.2,420.2" stroke-width="0.23" opacity="0.45"/>
<path d="M1147.6,431.5 L1149.8,423.1" stroke-width="0.23" opacity="0.45"/>
<path d="M1146.0,429.6 L1146.2,418.0" stroke-width="0.35" opacity="0.6"/>
<path d="M1020.0,451 L1020.6,436.1" stroke-width="0.6" opacity="0.85"/>
<path d="M1020.0,437.3 L1018.5,430.5" stroke-width="0.33" opacity="0.60"/>
<path d="M1019.0,433.1 L1018.1,429.6" stroke-width="0.20" opacity="0.45"/>
<path d="M1018.8,434.3 L1019.0,430.2" stroke-width="0.20" opacity="0.45"/>
<path d="M1020.0,439.8 L1021.4,432.2" stroke-width="0.33" opacity="0.60"/>
<path d="M1020.7,435.6 L1020.1,431.5" stroke-width="0.20" opacity="0.45"/>
<path d="M1021.0,434.8 L1021.1,430.2" stroke-width="0.20" opacity="0.45"/>
<path d="M1020.0,436.7 L1021.5,429.3" stroke-width="0.33" opacity="0.60"/>
<path d="M1020.8,433.1 L1022.4,428.5" stroke-width="0.20" opacity="0.45"/>
<path d="M1021.2,433.5 L1021.8,429.5" stroke-width="0.20" opacity="0.45"/>
<path d="M1020.0,436.1 L1019.1,428.0" stroke-width="0.30" opacity="0.6"/>
<path d="M1055.0,451 L1055.8,434.1" stroke-width="0.6" opacity="0.85"/>
<path d="M1055.0,434.4 L1054.9,423.7" stroke-width="0.33" opacity="0.60"/>
<path d="M1054.9,429.3 L1054.7,422.5" stroke-width="0.20" opacity="0.45"/>
<path d="M1055.0,428.8 L1056.3,423.8" stroke-width="0.20" opacity="0.45"/>
<path d="M1055.0,437.2 L1053.8,427.8" stroke-width="0.33" opacity="0.60"/>
<path d="M1054.5,433.3 L1055.8,427.3" stroke-width="0.20" opacity="0.45"/>
<path d="M1054.1,432.3 L1052.4,427.0" stroke-width="0.20" opacity="0.45"/>
<path d="M1055.0,436.0 L1054.7,424.6" stroke-width="0.33" opacity="0.60"/>
<path d="M1054.8,429.5 L1057.0,422.9" stroke-width="0.20" opacity="0.45"/>
<path d="M1054.9,429.1 L1055.3,423.8" stroke-width="0.20" opacity="0.45"/>
<path d="M1055.0,434.1 L1054.5,425.0" stroke-width="0.30" opacity="0.6"/>
<path d="M1168.0,451 L1168.3,434.1" stroke-width="0.6" opacity="0.85"/>
<path d="M1168.0,440.8 L1168.7,429.6" stroke-width="0.33" opacity="0.60"/>
<path d="M1168.4,434.1 L1170.2,428.3" stroke-width="0.20" opacity="0.45"/>
<path d="M1168.5,435.1 L1168.2,429.6" stroke-width="0.20" opacity="0.45"/>
<path d="M1168.0,438.4 L1166.2,430.0" stroke-width="0.33" opacity="0.60"/>
<path d="M1167.1,433.1 L1165.4,428.5" stroke-width="0.20" opacity="0.45"/>
<path d="M1166.4,432.2 L1166.5,427.9" stroke-width="0.20" opacity="0.45"/>
<path d="M1168.0,437.1 L1165.2,427.0" stroke-width="0.33" opacity="0.60"/>
<path d="M1166.4,431.7 L1163.4,427.4" stroke-width="0.20" opacity="0.45"/>
<path d="M1166.5,431.1 L1166.6,424.5" stroke-width="0.20" opacity="0.45"/>
<path d="M1168.0,434.1 L1167.3,425.0" stroke-width="0.30" opacity="0.6"/>
</g>
<g filter="url(#fBlur)">
<rect x="940" y="456" width="245" height="34" fill="#5b5e5a"/>
<path d="M940,451.500 C950,449.500 958,450.500 962,452.500 C975,454 985,453 1000,451.500 C1030,449 1060,449 1080,451 C1095,452.500 1108,453 1115,451 C1120,448.500 1128,449 1136,451 L1150,452 C1160,450.500 1170,451.500 1185,452.500 L1185,459 L940,459 Z" fill="#d9d7cf"/>
<path d="M962,453 C975,455 985,454.500 998,453 L998,458.500 L962,458.500 Z" fill="#9a968a" opacity="0.700"/>
<rect x="943" y="458.500" width="92" height="10.500" fill="#575b58"/>
<path d="M950,467.500 C958,461 980,459.500 1008,462 L1006,468.500 L950,468.500 Z" fill="#c0beb4"/>
<rect x="1036" y="458" width="48" height="6" fill="#5a5c58"/>
<path d="M943,468.300 L998.500,467.500 L998.500,488 L943,488 Z" fill="#7f7869"/>
<path d="M1031,463 L1068,462.500 L1070,488 L1026,488 Z" fill="#877d69"/>
<path d="M1031,463 L1068,462.500 L1068.500,466.500 L1030,467 Z" fill="#9a8f79"/>
<path d="M1085,460 L1109.500,459.500 L1111,486 L1083.500,486 Z" fill="#877e6c"/>
<path d="M1085,460 L1109.500,459.500 L1110,463 L1084.500,463.500 Z" fill="#9d937f"/>
<path d="M1137,456.500 L1149,456 L1151,475 L1137,476 Z" fill="#837967"/>
<path d="M1150,456 L1159,455.500 L1160,471 L1151,472 Z" fill="#bdbdb4"/>
<path d="M1159,455.500 L1169,455 L1169.500,465 L1159.500,466 Z" fill="#8b8570"/>
<path d="M1169,455.500 L1172,455.500 L1172,464 L1169.500,464.500 Z" fill="#c2c2ba"/>
<path d="M1172,455.500 L1182,455.500 L1182,465 L1172,465 Z" fill="#9a9580"/>
<path d="M998.500,488 C1001,479 1010,468.500 1021,464.500 C1026,464 1028.500,470 1028,488 Z" fill="#c9cccc"/>
<path d="M1110,461 C1114,455 1124,453.500 1129.500,457 L1130,483 L1112,484.500 Z" fill="#cdcfcc"/>
<path d="M1112,484 L1140,474.500 L1182,466 L1182,488 L1075,488 Z" fill="#6a5b47"/>
<path d="M1150,470.500 L1182,466.500 L1182,470.500 L1158,474.500 Z" fill="#7f6238"/>
<path d="M1140,478.500 L1182,472.500 L1182,475.500 L1148,481.500 Z" fill="#a9a9a1"/>
<path d="M1112,485.500 L1140,481.500 L1150,484.500 L1130,488 L1112,488 Z" fill="#8d8d86"/>
</g>
<rect x="1130.100" y="300" width="3.400" height="184" fill="#a0a29e"/>
<rect x="1133.500" y="298" width="3.400" height="186" fill="#8a8c88"/>
<rect x="1129.800" y="449.600" width="6.600" height="29" fill="#dcdcd8"/>
<rect x="1129.800" y="449.6" width="6.600" height="6.4" fill="#b3262d"/>
<rect x="1129.800" y="462" width="6.600" height="4.4" fill="#b3262d"/>
<rect x="1129.800" y="473.2" width="6.600" height="4.8" fill="#b3262d"/>
<path d="M1143.300,302.600 L1170.400,322 L1171.100,363 L1142.600,350.600 Z" fill="#86857a"/>
<path d="M1145,306 L1147,307.500 L1147,318 L1145,316.500 Z M1150,309.500 L1152,311 L1152,321.500 L1150,320 Z M1155,313 L1157,314.500 L1157,325 L1155,323.500 Z M1160,316.500 L1162,318 L1162,328.500 L1160,327 Z M1165,320 L1167,321.500 L1167,332 L1165,330.500 Z" fill="#b0ae9e"/>
<path d="M1138,308.500 L1171.500,334.500 L1171.500,338.500 L1138,312.500 Z" fill="#3a3a34"/>
<path d="M1138,329.500 L1171.500,351.500 L1171.500,355.500 L1138,333.500 Z" fill="#3a3a34"/>
<path d="M1142.600,341 L1171,358 L1171.100,363 L1142.600,350.600 Z" fill="#77776d"/>
<rect x="1077.600" y="262" width="3.600" height="226" fill="#bdc1c4"/>
<rect x="1081" y="262" width="1.300" height="226" fill="#7f817f"/>
<path d="M1073.500,241.500 L1081,240.500 L1081.500,254 L1074,255 Z" fill="#c9c5b4"/>
<rect x="1076" y="254" width="5.300" height="11" fill="#b9b6a8"/>
<path d="M1037.200,290.600 L1078,281.300 L1078,284.500 L1037.500,293.800 Z" fill="#8d939a"/><path d="M1037.300,290.800 L1078,281.500" stroke="#b9bec4" stroke-width="0.900"/><path d="M1037.500,293.700 L1078,284.400" stroke="#5e646c" stroke-width="0.900"/>
<path d="M1055.700,290.500 L1078,303.400" stroke="#7b8189" stroke-width="1.100"/>
<path d="M1040,293 L1040,303" stroke="#a9a9a9" stroke-width="1.400"/>
<ellipse cx="1040.600" cy="307.500" rx="4.300" ry="4.800" fill="#cfcfcb"/>
<path d="M1036.500,309 A4.300,4.800 0 0 0 1044.700,309 Z" fill="#343434"/>
<path d="M1066.300,319.300 L1100.300,330.400 L1127.400,373.500 L1112,368.600 L1094,361 Z" fill="#4a4f5a"/>
<path d="M1085.700,326.300 L1111.400,368" stroke="#8d95a2" stroke-width="1"/>
<path d="M1094,361 L1112,368.600 L1127.400,373.500" stroke="#c3c6c8" stroke-width="1" fill="none"/>
<path d="M1066.300,319.300 L1100.300,330.400 L1127.400,373.500" stroke="#7d8490" stroke-width="0.600" fill="none"/>
<path d="M1081,345 L1093.300,360.500 L1089,366 L1081,366 Z" fill="#2a2a28"/>
<path d="M1076,368.500 L1105.800,369.500 L1105.800,372.500 L1076,371 Z" fill="#b8bab8"/>
<rect x="1086.400" y="379.700" width="9" height="2.600" fill="#3a3a3a" opacity="0.850"/>
<rect x="973" y="395.500" width="8" height="1.600" fill="#444" opacity="0.700"/>
<rect x="1041.500" y="438" width="3.600" height="6" fill="#7a3a32" opacity="0.850"/>
</g>
<!--PHOTO-END-->
<!--POLE-START-->
<g id="pole" fill="none" stroke="#4a4a4a" stroke-width="1">
<path d="M815.900,207.500 L815.900,250.600"/>
<path d="M803.700,250.600 L816.300,250.600" stroke-width="1.600" stroke="#333"/>
<path d="M794.900,413 L794.900,248.700 L803.700,248.700 L803.700,250.600"/>
<path d="M804.100,251.500 L804.500,262 M804.700,265.300 L810.600,413"/>
<path d="M804.600,262.100 L845.800,262.100 L845.800,264 L842.500,265.200 L804.800,265.200 Z" stroke-width="0.900"/>
<ellipse cx="841.900" cy="279" rx="10.900" ry="13.400" fill="#fff"/>
<path d="M831.050,280.300 L852.750,280.300 A10.900,13.400 0 0 1 831.050,280.300 Z" fill="#0c0c0c" stroke="none"/>
<path d="M838.500,266.300 L845.300,266.300" stroke-width="0.800"/>
<path d="M818.200,230.200 L852.700,221.600 M775.900,311.900 L797.900,333.900 M705.700,393.600 L722.800,426.800 M761.400,391.400 L779.600,413.900" stroke-width="0.900" stroke="#555"/>
<path d="M673.600,414.300 L912.400,414.300" stroke="#555"/>
<path d="M781.700,412.800 L791.500,412.800" stroke="#1a1a1a" stroke-width="2.200"/><path d="M791.500,413 L820.300,413" stroke="#4a4a4a" stroke-width="1.400"/>
<path d="M790.300,410 L790.300,416.200 M816.600,410 L816.600,416.200" stroke="#222" stroke-width="1.600"/>
<path d="M786.500,413.500 L781.700,413.500 L781.700,423.500 L724.500,423.500 M783,415 L783,426.100 L727,426.100 M784.600,416 L784.600,428.500 L732.500,428.500 L732.500,485 L721.100,485 L721.100,423.500 L724.500,423.500" stroke="#333" stroke-width="0.900"/>
<path d="M724.600,425.300 L728.900,425.300 L728.900,477 L725.200,482 L724.600,478 Z" fill="#0c0c0c" stroke="none"/>
</g>
<g id="concrete" fill="none" stroke="#5a5a5a" stroke-width="1">
<ellipse cx="786.0" cy="462.1" rx="8.1" ry="2.8"/>
<ellipse cx="810.6" cy="463.8" rx="8.1" ry="4.3"/>
<ellipse cx="837.4" cy="470.0" rx="3.9" ry="3.9"/>
<ellipse cx="820.3" cy="455.0" rx="6.4" ry="1.7"/>
<ellipse cx="782.8" cy="451.0" rx="4.7" ry="2.6"/>
<ellipse cx="751.7" cy="447.1" rx="3.0" ry="3.9"/>
<ellipse cx="722.8" cy="492.1" rx="7.5" ry="2.1"/>
<ellipse cx="762.4" cy="473.4" rx="6.0" ry="1.5"/>
<ellipse cx="809.6" cy="474.9" rx="3.4" ry="2.6"/>
<ellipse cx="893.1" cy="486.7" rx="4.3" ry="2.8"/>
<ellipse cx="878.1" cy="483.5" rx="4.3" ry="2.1"/>
<ellipse cx="861.0" cy="482.4" rx="2.6" ry="2.1"/>
<ellipse cx="865.3" cy="426.1" rx="4.3" ry="1.7"/>
<ellipse cx="861.0" cy="418.8" rx="5.4" ry="1.5"/>
<ellipse cx="892.0" cy="420.3" rx="2.1" ry="2.1"/>
<ellipse cx="884.5" cy="436.0" rx="2.6" ry="2.6"/>
<ellipse cx="902.7" cy="439.6" rx="4.3" ry="4.3"/>
<ellipse cx="908.1" cy="431.7" rx="3.0" ry="3.0"/>
<ellipse cx="690.7" cy="447.1" rx="3.0" ry="2.1"/>
<ellipse cx="709.3" cy="445.6" rx="1.5" ry="3.9"/>
<ellipse cx="704.6" cy="467.5" rx="1.5" ry="3.4"/>
<ellipse cx="692.8" cy="475.0" rx="3.4" ry="1.5"/>
<ellipse cx="697.1" cy="432.5" rx="2.6" ry="1.5"/>
<ellipse cx="679.6" cy="435.8" rx="1.1" ry="3.6"/>
<ellipse cx="749.6" cy="436.4" rx="3.9" ry="1.7"/>
<ellipse cx="764.0" cy="434.3" rx="1.9" ry="1.9"/>
<ellipse cx="748.5" cy="462.5" rx="1.5" ry="2.6"/>
<ellipse cx="736.8" cy="454.2" rx="1.5" ry="1.5"/>
<ellipse cx="745.3" cy="483.5" rx="2.6" ry="2.1"/>
<ellipse cx="756.0" cy="492.5" rx="4.3" ry="1.7"/>
<ellipse cx="785.6" cy="481.4" rx="2.1" ry="3.6"/>
<ellipse cx="783.9" cy="491.0" rx="3.9" ry="1.3"/>
<ellipse cx="828.8" cy="485.2" rx="2.6" ry="2.6"/>
<ellipse cx="809.6" cy="421.0" rx="3.2" ry="1.5"/>
<ellipse cx="796.7" cy="436.4" rx="2.6" ry="1.3"/>
<ellipse cx="824.6" cy="435.3" rx="2.1" ry="1.3"/>
<ellipse cx="847.0" cy="428.3" rx="1.7" ry="1.7"/>
<ellipse cx="839.6" cy="457.4" rx="3.0" ry="1.3"/>
<ellipse cx="868.9" cy="446.0" rx="1.3" ry="4.3"/>
<ellipse cx="868.5" cy="468.5" rx="2.1" ry="2.1"/>
<ellipse cx="888.8" cy="469.6" rx="1.9" ry="1.9"/>
<ellipse cx="853.5" cy="471.7" rx="1.1" ry="3.0"/>
<ellipse cx="884.5" cy="451.8" rx="1.5" ry="1.5"/>
<ellipse cx="727.8" cy="417.1" rx="1.7" ry="1.7"/>
<ellipse cx="908.1" cy="462.5" rx="1.5" ry="1.5"/>
<ellipse cx="675.3" cy="476.7" rx="0.9" ry="3.4"/>
<ellipse cx="823.0" cy="486.5" rx="1.8" ry="1.5"/>
<ellipse cx="751.0" cy="480.0" rx="2.6" ry="1.3"/>
<ellipse cx="738.0" cy="436.0" rx="1.6" ry="2.0"/>
<ellipse cx="906.0" cy="486.0" rx="0.8" ry="2.0"/>
<path d="M898.300,433 L898.300,441"/>
<path d="M778.500,449.500 L787.500,449"/>
</g>
<g id="blobs" fill="#111" stroke="none">
<ellipse cx="700.3" cy="443.9" rx="0.9" ry="2.2" transform="rotate(-20 700.3 443.9)"/>
<ellipse cx="699.3" cy="457.8" rx="2.0" ry="1.0" transform="rotate(25 699.3 457.8)"/>
<ellipse cx="711.0" cy="456.7" rx="0.9" ry="1.5" transform="rotate(10 711.0 456.7)"/>
<ellipse cx="688.6" cy="461.7" rx="1.2" ry="1.8" transform="rotate(-25 688.6 461.7)"/>
<ellipse cx="719.6" cy="477.1" rx="0.9" ry="1.6" transform="rotate(0 719.6 477.1)"/>
<ellipse cx="793.5" cy="431.0" rx="1.5" ry="1.0" transform="rotate(35 793.5 431.0)"/>
<ellipse cx="864.2" cy="451.4" rx="0.9" ry="1.5" transform="rotate(10 864.2 451.4)"/>
<ellipse cx="854.5" cy="461.0" rx="1.2" ry="0.9" transform="rotate(0 854.5 461.0)"/>
<ellipse cx="863.1" cy="462.1" rx="0.9" ry="1.6" transform="rotate(-15 863.1 462.1)"/>
<ellipse cx="901.7" cy="454.2" rx="1.8" ry="1.0" transform="rotate(40 901.7 454.2)"/>
<ellipse cx="831.0" cy="421.0" rx="2.2" ry="0.6" transform="rotate(0 831.0 421.0)"/>
<ellipse cx="831.0" cy="421.0" rx="0.6" ry="2.0" transform="rotate(0 831.0 421.0)"/>
<ellipse cx="693.9" cy="488.4" rx="2.2" ry="0.7" transform="rotate(0 693.9 488.4)"/>
<ellipse cx="677.9" cy="491.7" rx="1.1" ry="1.0" transform="rotate(0 677.9 491.7)"/>
<ellipse cx="852.4" cy="491.0" rx="2.0" ry="0.7" transform="rotate(0 852.4 491.0)"/>
<ellipse cx="764.0" cy="418.0" rx="2.0" ry="0.9" transform="rotate(20 764.0 418.0)"/>
<ellipse cx="757.0" cy="421.0" rx="1.0" ry="1.0" transform="rotate(0 757.0 421.0)"/>
<ellipse cx="747.0" cy="417.5" rx="0.6" ry="1.6" transform="rotate(0 747.0 417.5)"/>
<ellipse cx="740.0" cy="418.8" rx="4.0" ry="0.5" transform="rotate(0 740.0 418.8)"/>
<ellipse cx="800.5" cy="420.5" rx="0.6" ry="2.8" transform="rotate(5 800.5 420.5)"/>
<ellipse cx="794.0" cy="455.6" rx="1.2" ry="0.9" transform="rotate(0 794.0 455.6)"/>
<ellipse cx="799.0" cy="450.6" rx="0.7" ry="1.7" transform="rotate(0 799.0 450.6)"/>
<ellipse cx="775.0" cy="478.5" rx="0.7" ry="2.5" transform="rotate(5 775.0 478.5)"/>
<ellipse cx="793.7" cy="472.8" rx="1.3" ry="1.0" transform="rotate(30 793.7 472.8)"/>
<ellipse cx="822.4" cy="474.0" rx="0.9" ry="1.0" transform="rotate(0 822.4 474.0)"/>
<ellipse cx="708.0" cy="425.5" rx="2.0" ry="0.6" transform="rotate(0 708.0 425.5)"/>
<ellipse cx="679.5" cy="421.5" rx="1.1" ry="1.0" transform="rotate(0 679.5 421.5)"/>
<ellipse cx="694.5" cy="427.0" rx="1.0" ry="0.8" transform="rotate(0 694.5 427.0)"/>
<rect x="874.400" y="449" width="1" height="10"/>
<rect x="881.300" y="462" width="8.600" height="1.300" fill="#444"/>
<rect x="893" y="478.200" width="10.800" height="1.300" fill="#333"/>
<rect x="737.800" y="488.700" width="10.700" height="1.300" fill="#555"/>
<rect x="891.300" y="448" width="0.800" height="6" fill="#555"/>
<path d="M835.300,442.800 L854.500,450.300 L853.500,451.600 L847,448.400 Z"/>
<path d="M836,443.500 L853.500,448" stroke="#333" stroke-width="0.600" fill="none"/>
<circle cx="828.6" cy="423.0" r="1.0" fill="#333"/>
<circle cx="697.2" cy="461.5" r="1.0" fill="#333"/>
<circle cx="773.7" cy="435.7" r="1.0" fill="#333"/>
<circle cx="775.2" cy="479.9" r="0.6" fill="#333"/>
<circle cx="898.6" cy="465.1" r="1.0" fill="#333"/>
<circle cx="898.7" cy="461.1" r="0.9" fill="#333"/>
<circle cx="686.7" cy="434.2" r="1.0" fill="#333"/>
<circle cx="877.6" cy="439.4" r="0.7" fill="#333"/>
<circle cx="802.6" cy="460.6" r="1.0" fill="#333"/>
<circle cx="867.6" cy="431.1" r="1.0" fill="#333"/>
<circle cx="809.8" cy="431.7" r="0.6" fill="#333"/>
<circle cx="804.3" cy="422.2" r="0.6" fill="#333"/>
<circle cx="821.1" cy="455.0" r="1.0" fill="#333"/>
<circle cx="775.9" cy="441.2" r="1.0" fill="#333"/>
<circle cx="892.9" cy="444.8" r="0.7" fill="#333"/>
<circle cx="862.5" cy="470.3" r="0.7" fill="#333"/>
<circle cx="694.3" cy="440.2" r="0.9" fill="#333"/>
<circle cx="881.5" cy="472.6" r="0.8" fill="#333"/>
<circle cx="818.7" cy="423.0" r="1.0" fill="#333"/>
<circle cx="773.7" cy="474.7" r="0.7" fill="#333"/>
<circle cx="895.3" cy="449.3" r="0.6" fill="#333"/>
<circle cx="855.4" cy="460.8" r="0.8" fill="#333"/>
<circle cx="755.3" cy="443.9" r="0.9" fill="#333"/>
<circle cx="811.9" cy="451.9" r="0.6" fill="#333"/>
<circle cx="897.9" cy="453.3" r="0.6" fill="#333"/>
<circle cx="689.3" cy="470.5" r="1.0" fill="#333"/>
<circle cx="909.4" cy="479.6" r="0.8" fill="#333"/>
<circle cx="844.1" cy="484.5" r="0.8" fill="#333"/>
<circle cx="680.3" cy="452.4" r="0.7" fill="#333"/>
<circle cx="819.2" cy="454.8" r="0.7" fill="#333"/>
<circle cx="856.3" cy="427.3" r="0.7" fill="#333"/>
<circle cx="768.9" cy="486.7" r="0.9" fill="#333"/>
<circle cx="694.0" cy="451.4" r="1.0" fill="#333"/>
<circle cx="776.6" cy="459.0" r="0.9" fill="#333"/>
<circle cx="907.8" cy="469.0" r="0.9" fill="#333"/>
<circle cx="901.0" cy="428.9" r="0.7" fill="#333"/>
<circle cx="710.7" cy="467.2" r="0.6" fill="#333"/>
<circle cx="789.5" cy="462.0" r="0.8" fill="#333"/>
<circle cx="801.2" cy="463.5" r="0.8" fill="#333"/>
<circle cx="899.9" cy="469.6" r="1.0" fill="#333"/>
<circle cx="899.3" cy="466.9" r="0.6" fill="#333"/>
<circle cx="782.8" cy="483.3" r="1.0" fill="#333"/>
<circle cx="767.6" cy="447.6" r="0.6" fill="#333"/>
<circle cx="788.6" cy="447.7" r="0.7" fill="#333"/>
<circle cx="690.9" cy="433.3" r="0.7" fill="#333"/>
<circle cx="700.9" cy="462.9" r="0.6" fill="#333"/>
<circle cx="675.1" cy="428.9" r="0.6" fill="#333"/>
<circle cx="899.0" cy="463.8" r="0.6" fill="#333"/>
<circle cx="881.3" cy="463.9" r="0.7" fill="#333"/>
<circle cx="824.7" cy="489.6" r="1.0" fill="#333"/>
<circle cx="875.3" cy="492.5" r="0.9" fill="#333"/>
<circle cx="788.4" cy="441.0" r="0.7" fill="#333"/>
<circle cx="699.1" cy="443.4" r="0.8" fill="#333"/>
<circle cx="788.0" cy="469.8" r="1.0" fill="#333"/>
<circle cx="680.5" cy="489.3" r="1.0" fill="#333"/>
<circle cx="760.4" cy="469.6" r="0.6" fill="#333"/>
<circle cx="853.9" cy="440.0" r="0.6" fill="#333"/>
<circle cx="839.3" cy="437.2" r="0.8" fill="#333"/>
<circle cx="889.3" cy="444.4" r="0.7" fill="#333"/>
<circle cx="800.7" cy="476.3" r="0.8" fill="#333"/>
<circle cx="825.2" cy="463.8" r="0.7" fill="#333"/>
<circle cx="865.2" cy="479.3" r="0.7" fill="#333"/>
<circle cx="847.5" cy="492.2" r="0.8" fill="#333"/>
<circle cx="786.4" cy="432.1" r="1.0" fill="#333"/>
<circle cx="900.7" cy="451.3" r="0.8" fill="#333"/>
<circle cx="900.4" cy="445.0" r="0.7" fill="#333"/>
<circle cx="699.1" cy="453.0" r="0.8" fill="#333"/>
<circle cx="887.5" cy="481.0" r="0.9" fill="#333"/>
<circle cx="889.6" cy="443.5" r="0.6" fill="#333"/>
<circle cx="872.0" cy="426.6" r="0.9" fill="#333"/>
<circle cx="859.6" cy="474.1" r="0.9" fill="#333"/>
<circle cx="884.8" cy="450.3" r="0.8" fill="#333"/>
<circle cx="695.5" cy="488.9" r="0.9" fill="#333"/>
<circle cx="784.3" cy="473.6" r="0.6" fill="#333"/>
<circle cx="846.1" cy="430.3" r="0.7" fill="#333"/>
<circle cx="681.5" cy="462.1" r="0.9" fill="#333"/>
<circle cx="865.3" cy="428.5" r="1.0" fill="#333"/>
<circle cx="906.4" cy="467.1" r="0.8" fill="#333"/>
<circle cx="711.8" cy="458.9" r="0.6" fill="#333"/>
<circle cx="678.4" cy="490.8" r="0.6" fill="#333"/>
<circle cx="799.3" cy="488.0" r="0.9" fill="#333"/>
<circle cx="907.8" cy="432.2" r="0.7" fill="#333"/>
<circle cx="681.6" cy="433.6" r="1.0" fill="#333"/>
<circle cx="736.2" cy="449.1" r="0.7" fill="#333"/>
<circle cx="689.4" cy="473.4" r="0.9" fill="#333"/>
<circle cx="831.3" cy="479.0" r="1.0" fill="#333"/>
<circle cx="774.3" cy="486.8" r="1.0" fill="#333"/>
<circle cx="705.9" cy="429.0" r="1.0" fill="#333"/>
<circle cx="679.4" cy="450.7" r="0.7" fill="#333"/>
<circle cx="818.6" cy="476.1" r="0.7" fill="#333"/>
<circle cx="715.7" cy="453.2" r="0.6" fill="#333"/>
<circle cx="806.3" cy="442.1" r="1.0" fill="#333"/>
<circle cx="800.3" cy="453.9" r="0.6" fill="#333"/>
<circle cx="883.4" cy="421.8" r="0.7" fill="#333"/>
<circle cx="740.4" cy="475.8" r="1.0" fill="#333"/>
<circle cx="886.0" cy="422.3" r="0.8" fill="#333"/>
<circle cx="819.6" cy="455.7" r="1.0" fill="#333"/>
<circle cx="794.9" cy="478.5" r="1.0" fill="#333"/>
<circle cx="897.2" cy="470.3" r="0.8" fill="#333"/>
<circle cx="892.8" cy="484.9" r="0.7" fill="#333"/>
<circle cx="873.2" cy="427.9" r="0.6" fill="#333"/>
<circle cx="767.6" cy="441.4" r="0.7" fill="#333"/>
<circle cx="776.1" cy="433.6" r="0.8" fill="#333"/>
<circle cx="860.0" cy="485.2" r="0.7" fill="#333"/>
<circle cx="896.7" cy="466.1" r="0.8" fill="#333"/>
</g>
<!--POLE-END-->
<g id="cables" fill="none" stroke="#3a3a3a" stroke-width="1.4">
  <path d="M154,188.5 C163,188.5 167,195 167,204 L167,214 C167,223 172,229 181,229 L217,229"/>
  <path d="M154,286 C163,286 167,279.500 167,270.500 L167,260 C167,251 172,244.500 181,244.500 L217,244.500"/>
  <path d="M393.500,188.500 C384.500,188.500 380,195 380,204 L380,214 C380,223 375,229 366,229 L330.500,229"/>
  <path d="M393.500,285.500 C384.500,285.500 380,279 380,270 L380,260 C380,251 375,244.500 366,244.500 L330.500,244.500"/>
  <circle cx="219.800" cy="229" r="2.700" fill="#fff"/>
  <circle cx="219.800" cy="244.500" r="2.700" fill="#fff"/>
  <circle cx="327.600" cy="229" r="2.700" fill="#fff"/>
  <circle cx="327.600" cy="244.500" r="2.700" fill="#fff"/>
</g>
<g id="plugs" fill="#222">
  <rect x="150.300" y="183.500" width="3.700" height="10.500"/>
  <rect x="150.300" y="281" width="3.700" height="10.500"/>
  <rect x="393.500" y="183" width="3.700" height="10.500"/>
  <rect x="393.500" y="280.500" width="3.700" height="10.500"/>
</g>
</svg>

<div class="abs lbl" style="left:91px;top:320px;">视频监控设备</div>
<div class="abs lbl" style="left:237px;top:266.500px;">视频遥测终端机</div>
<div class="abs lbl" style="left:412px;top:212px;">4G</div>
<div class="abs lbl" style="left:394.500px;top:240px;color:#222;font-size:10.100px">VPN专网</div>
<div class="abs lbl" style="left:410px;top:296.500px;">光纤</div>

<div class="abs tiny" style="left:855.500px;top:217.500px;">避雷针</div>
<div class="abs tiny" style="left:760px;top:305px;">立杆</div>
<div class="abs tiny" style="left:685px;top:385.800px;">镀锌角钢</div>
<div class="abs tiny" style="left:747.500px;top:383.700px;">镀锌扁铁</div>
<div class="abs" id="cap">视频监控设备</div>
<div class="abs" id="botline"></div>
</body>
</html>
